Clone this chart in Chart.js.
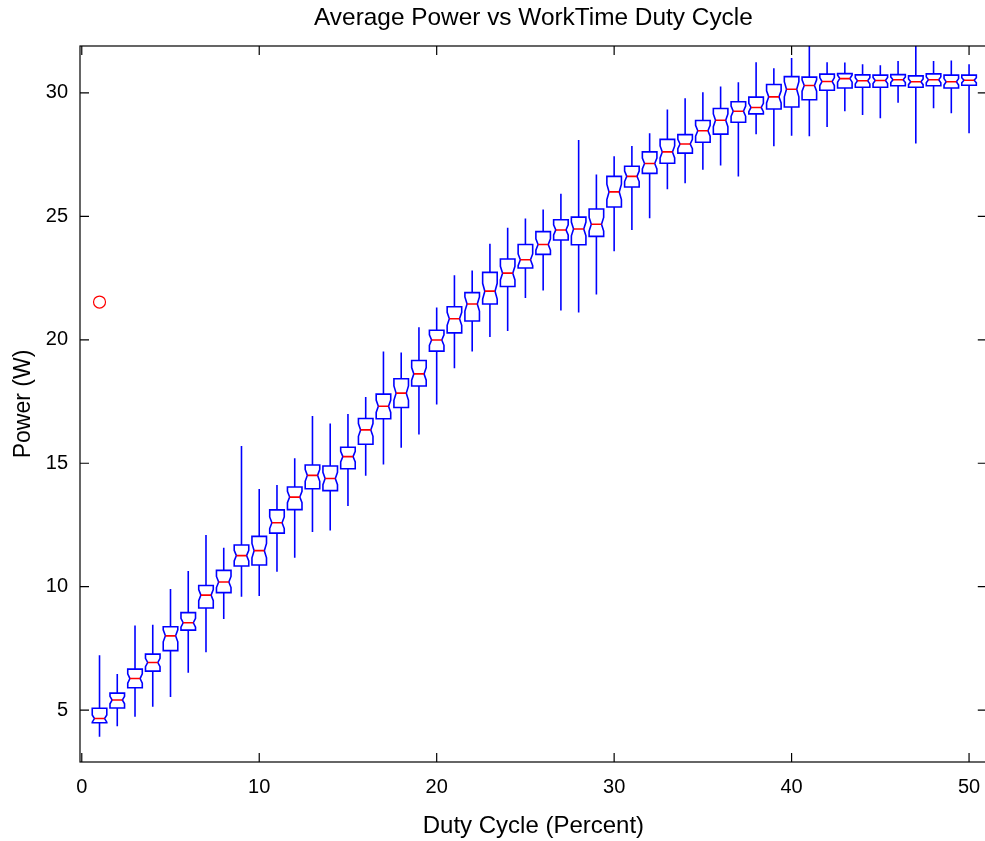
<!DOCTYPE html>
<html>
<head>
<meta charset="utf-8">
<script src="https://cdn.jsdelivr.net/npm/chart.js@4.4.1/dist/chart.umd.min.js"></script>
<style>
  html, body { margin: 0; padding: 0; background: #fff; overflow: hidden; }
  #wrap { width: 985px; height: 841px; overflow: hidden; position: relative; }
  #power-box { position: absolute; left: 0; top: 0; }
</style>
</head>
<body>
<div id="wrap"><canvas id="power-box" width="994" height="841"></canvas></div>
<script>
// duty cycle groups (percent)
var dutyCycle = [1,2,3,4,5,6,7,8,9,10,11,12,13,14,15,16,17,18,19,20,
                 21,22,23,24,25,26,27,28,29,30,31,32,33,34,35,36,37,38,39,40,
                 41,42,43,44,45,46,47,48,49,50];

// box statistics per group, watts
var whiskerHigh = [7.22,6.46,8.43,8.46,9.91,10.64,12.09,11.58,15.70,13.96,
                   14.12,15.20,16.91,16.61,16.99,17.68,19.53,19.49,20.51,21.31,
                   22.61,22.81,23.89,24.54,24.91,25.28,25.92,28.09,26.70,27.43,
                   27.85,28.37,29.33,29.78,30.03,30.26,30.43,31.24,31.00,31.41,
                   32.30,31.24,31.23,31.16,31.12,31.29,32.30,31.29,31.31,31.16];
var upperQuartile = [5.08,5.69,6.66,7.27,8.38,8.95,10.05,10.66,11.69,12.04,
                     13.11,14.04,14.93,14.89,15.65,16.81,17.80,18.42,19.16,20.39,
                     21.34,21.91,22.73,23.27,23.86,24.38,24.86,24.97,25.30,26.62,
                     27.03,27.61,28.12,28.31,28.88,29.37,29.64,29.83,30.34,30.66,
                     30.64,30.76,30.78,30.73,30.72,30.74,30.69,30.77,30.72,30.72];
var medians = [4.66,5.41,6.28,6.93,8.01,8.54,9.66,10.19,11.26,11.46,
               12.59,13.63,14.51,14.38,15.27,16.35,17.31,17.84,18.62,19.99,
               20.85,21.45,21.97,22.70,23.24,23.86,24.45,24.49,24.68,25.99,
               26.62,27.14,27.61,27.93,28.47,28.89,29.26,29.41,29.84,30.15,
               30.30,30.46,30.58,30.49,30.50,30.53,30.45,30.53,30.45,30.51];
var lowerQuartile = [4.49,5.09,5.91,6.58,7.41,8.24,9.14,9.76,10.84,10.88,
                     12.17,13.12,13.97,13.89,14.78,15.77,16.80,17.26,18.13,19.54,
                     20.28,20.76,21.45,22.16,22.91,23.46,24.04,23.85,24.19,25.38,
                     26.19,26.74,27.15,27.56,28.00,28.33,28.81,29.15,29.35,29.43,
                     29.72,30.11,30.20,30.23,30.23,30.29,30.23,30.29,30.20,30.31];
var whiskerLow = [3.92,4.35,4.73,5.14,5.53,6.51,7.35,8.69,9.59,9.62,
                  10.61,11.17,12.22,12.28,13.27,14.49,14.95,15.63,16.16,17.38,
                  18.85,19.53,20.11,20.36,21.69,22.00,21.19,21.11,21.84,23.59,
                  24.45,24.92,26.10,26.34,26.89,27.06,26.61,28.33,27.84,28.26,
                  28.24,28.62,29.26,29.11,28.97,29.60,27.95,29.38,29.18,28.37];

// outliers
var outlierDuty = [1];
var outlierPower = [21.53];

var xTicks = [0, 10, 20, 30, 40, 50];
var yTicks = [5, 10, 15, 20, 25, 30];

var TITLE = 'Average Power vs WorkTime Duty Cycle';
var FONT = '"Liberation Sans", Arial, Helvetica, sans-serif';
var BOX_HALF = 0.41;     // half box width in duty units
var NOTCH_INSET = 0.3;   // fraction of half width cut in at the median
var NOTCH_SPAN = 0.25;   // notch half height as fraction of the box height

// notched boxes + whiskers, drawn through the chart's scales
var boxPlot = {
  id: 'boxPlot',
  beforeDatasetsDraw: function(chart){
    var c = chart.ctx, xs = chart.scales.x, ys = chart.scales.y, a = chart.chartArea;
    c.save();
    c.beginPath();
    c.rect(a.left, a.top, a.right - a.left, a.bottom - a.top);
    c.clip();
    for (var i = 0; i < dutyCycle.length; i++) {
      var d = dutyCycle[i];
      var cx = xs.getPixelForValue(d);
      var hw = xs.getPixelForValue(d + BOX_HALF) - cx;
      var inset = hw * NOTCH_INSET;
      var yHi = ys.getPixelForValue(whiskerHigh[i]);
      var yQ3 = ys.getPixelForValue(upperQuartile[i]);
      var yMed = ys.getPixelForValue(medians[i]);
      var yQ1 = ys.getPixelForValue(lowerQuartile[i]);
      var yLo = ys.getPixelForValue(whiskerLow[i]);
      var span = (yQ1 - yQ3) * NOTCH_SPAN;
      var nTop = Math.max(yQ3, yMed - span);
      var nBot = Math.min(yQ1, yMed + span);

      c.strokeStyle = '#0000ff';
      c.lineWidth = 1.6;
      // whiskers
      c.beginPath();
      c.moveTo(cx, yQ3); c.lineTo(cx, yHi);
      c.moveTo(cx, yQ1); c.lineTo(cx, yLo);
      c.stroke();
      // notched box outline
      c.beginPath();
      c.moveTo(cx - hw, yQ3);
      c.lineTo(cx + hw, yQ3);
      c.lineTo(cx + hw, nTop);
      c.lineTo(cx + hw - inset, yMed);
      c.lineTo(cx + hw, nBot);
      c.lineTo(cx + hw, yQ1);
      c.lineTo(cx - hw, yQ1);
      c.lineTo(cx - hw, nBot);
      c.lineTo(cx - hw + inset, yMed);
      c.lineTo(cx - hw, nTop);
      c.closePath();
      c.stroke();
      // median
      c.strokeStyle = '#ff0000';
      c.beginPath();
      c.moveTo(cx - hw + inset, yMed);
      c.lineTo(cx + hw - inset, yMed);
      c.stroke();
    }
    c.restore();
  },
  afterDraw: function(chart){
    // axes box with inward ticks on all four sides
    var c = chart.ctx, xs = chart.scales.x, ys = chart.scales.y, a = chart.chartArea;
    var tl = 9;
    c.save();
    c.strokeStyle = '#000';
    c.lineWidth = 1.2;
    c.strokeRect(a.left, a.top, a.right - a.left, a.bottom - a.top);
    c.beginPath();
    xTicks.forEach(function(v){
      var px = xs.getPixelForValue(v);
      c.moveTo(px, a.bottom); c.lineTo(px, a.bottom - tl);
      c.moveTo(px, a.top); c.lineTo(px, a.top + tl);
    });
    yTicks.forEach(function(v){
      var py = ys.getPixelForValue(v);
      c.moveTo(a.left, py); c.lineTo(a.left + tl, py);
      c.moveTo(a.right, py); c.lineTo(a.right - tl, py);
    });
    c.stroke();
    // title centred over the plot area
    c.fillStyle = '#000';
    c.font = '24.4px ' + FONT;
    c.textAlign = 'center';
    c.textBaseline = 'middle';
    c.fillText(TITLE, (a.left + a.right) / 2, 18.5);
    c.restore();
  }
};

var ctx = document.getElementById('power-box');
new Chart(ctx, {
  type: 'scatter',
  data: {
    datasets: [{
      label: 'Outliers',
      data: outlierDuty.map(function(d, i){ return {x: d, y: outlierPower[i]}; }),
      pointStyle: 'circle',
      pointRadius: 6,
      pointBorderWidth: 1.2,
      pointBorderColor: '#ff0000',
      pointBackgroundColor: 'rgba(0,0,0,0)'
    }]
  },
  options: {
    responsive: false,
    animation: false,
    events: [],
    layout: { padding: { left: 0, right: 3, top: 46, bottom: 0 } },
    plugins: {
      legend: { display: false },
      tooltip: { enabled: false },
      title: { display: false }
    },
    scales: {
      x: {
        type: 'linear',
        min: -0.1,
        max: 51,
        grid: { display: false, drawTicks: false },
        border: { display: false },
        afterBuildTicks: function(s){ s.ticks = xTicks.map(function(v){ return {value: v}; }); },
        afterFit: function(s){ s.height = 79; s.paddingLeft = 0; s.paddingRight = 0; },
        ticks: { color: '#000', padding: 13, maxRotation: 0, font: { family: FONT, size: 20 } },
        title: {
          display: true,
          text: 'Duty Cycle (Percent)',
          color: '#000',
          font: { family: FONT, size: 24 },
          padding: { top: 0, bottom: 0.6 }
        }
      },
      y: {
        min: 2.9,
        max: 31.9,
        grid: { display: false, drawTicks: false },
        border: { display: false },
        afterBuildTicks: function(s){ s.ticks = yTicks.map(function(v){ return {value: v}; }); },
        afterFit: function(s){ s.width = 80; s.paddingTop = 0; s.paddingBottom = 0; },
        ticks: { color: '#000', padding: 12, font: { family: FONT, size: 20 } },
        title: {
          display: true,
          text: 'Power (W)',
          color: '#000',
          font: { family: FONT, size: 23 },
          padding: { top: 10.2, bottom: 0 }
        }
      }
    }
  },
  plugins: [boxPlot]
});
</script>
</body>
</html>
